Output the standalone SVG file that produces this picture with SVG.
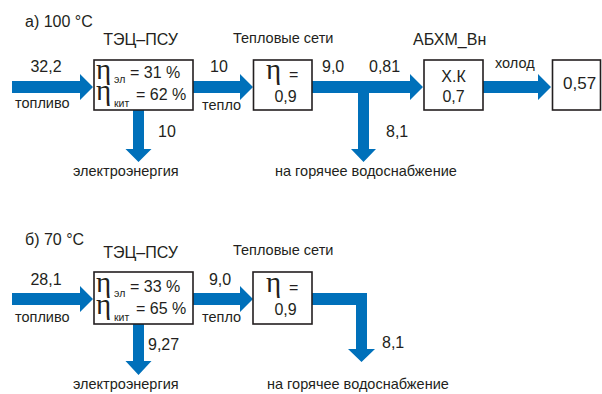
<svg xmlns="http://www.w3.org/2000/svg" width="602" height="394" viewBox="0 0 602 394">
<style>
text{font-family:"Liberation Sans",Arial,sans-serif;fill:#231f20}
.t{font-size:16px}
.l{font-size:14.5px}
.n{font-size:16px}
.eta{font-family:"Liberation Serif","Times New Roman",serif;font-size:29px}
.sub{font-size:10.5px}
.c{text-anchor:middle}
.box{fill:#fff;stroke:#231f20;stroke-width:1.6}
.ar{fill:#0070ba}
</style>
<text class="t" x="25" y="27">а) 100 °С</text>
<text class="t" x="25" y="245">б) 70 °С</text>

<g id="connectors">
  <!-- part a -->
  <polygon class="ar" points="12,81 80,81 80,74 93,87 80,100 80,93 12,93"/>
  <polygon class="ar" points="193,81 240,81 240,74 253,87 240,100 240,93 193,93"/>
  <polygon class="ar" points="133,110 144,110 144,149 151.5,149 138.5,162 125.5,149 133,149"/>
  <polygon class="ar" points="312,81 410,81 410,74 423,87 410,100 410,93 369,93 369,149 376,149 363.5,162 351,149 358,149 358,93 312,93"/>
  <polygon class="ar" points="483,81 538,81 538,74 551,87 538,100 538,93 483,93"/>
  <!-- part b -->
  <polygon class="ar" points="12,293 80,293 80,286 93,299 80,312 80,305 12,305"/>
  <polygon class="ar" points="193,293 240,293 240,286 253,299 240,312 240,305 193,305"/>
  <polygon class="ar" points="133,324 144,324 144,361 151.5,361 138.5,375 125.5,361 133,361"/>
  <polygon class="ar" points="312,293 367,293 367,349 375,349 361.5,362 348,349 356,349 356,305 312,305"/>
</g>

<g id="labels">
  <text class="n c" x="46" y="72">32,2</text>
  <text class="l" x="15" y="108">топливо</text>
  <text class="n c" x="219" y="72">10</text>
  <text class="l" x="202" y="110">тепло</text>
  <text class="n" x="158" y="137">10</text>
  <text class="l" x="73" y="176">электроэнергия</text>
  <text class="n" x="322" y="72">9,0</text>
  <text class="n" x="369" y="72">0,81</text>
  <text class="n" x="386" y="137">8,1</text>
  <text class="l" x="275" y="176">на горячее водоснабжение</text>
  <text class="l" x="495" y="68">холод</text>

  <text class="n c" x="46" y="285">28,1</text>
  <text class="l" x="15" y="322">топливо</text>
  <text class="n c" x="220" y="285">9,0</text>
  <text class="l" x="202" y="322">тепло</text>
  <text class="n" x="148" y="350">9,27</text>
  <text class="l" x="73" y="389">электроэнергия</text>
  <text class="n" x="382" y="348">8,1</text>
  <text class="l" x="267" y="389">на горячее водоснабжение</text>
</g>

<g id="tec-a">
  <text class="t c" x="140.5" y="45">ТЭЦ–ПСУ</text>
  <rect class="box" x="94" y="60" width="99" height="50"/>
  <text class="eta"><tspan x="96" y="79">η</tspan><tspan x="96" y="100">η</tspan></text>
  <text class="sub" x="114" y="83">эл</text>
  <text class="n" x="130" y="78">= 31 %</text>
  <text class="sub" x="114" y="107">кит</text>
  <text class="n" x="136" y="100">= 62 %</text>
</g>
<g id="net-a">
  <text class="l" x="233" y="43">Тепловые сети</text>
  <rect class="box" x="253.5" y="60" width="58.5" height="50"/>
  <text class="eta" x="266" y="79">η</text>
  <text class="n" x="289" y="80">=</text>
  <text class="n c" x="285.5" y="102">0,9</text>
</g>
<g id="abhm-a">
  <text class="t" x="413" y="45">АБХМ_Вн</text>
  <rect class="box" x="424" y="60" width="59" height="50"/>
  <text class="n c" x="453.5" y="82">Х.К</text>
  <text class="n c" x="453.5" y="102">0,7</text>
</g>
<g id="cold-a">
  <rect class="box" x="552.5" y="60" width="48" height="50"/>
  <text class="n" x="563" y="89" style="font-size:17px">0,57</text>
</g>

<g id="tec-b">
  <text class="t c" x="140.5" y="258">ТЭЦ–ПСУ</text>
  <rect class="box" x="94" y="272" width="99" height="52"/>
  <text class="eta"><tspan x="96" y="292">η</tspan><tspan x="96" y="314">η</tspan></text>
  <text class="sub" x="114" y="297">эл</text>
  <text class="n" x="130" y="292">= 33 %</text>
  <text class="sub" x="114" y="321">кит</text>
  <text class="n" x="136" y="314">= 65 %</text>
</g>
<g id="net-b">
  <text class="l" x="233" y="255">Тепловые сети</text>
  <rect class="box" x="253" y="272" width="59" height="52"/>
  <text class="eta" x="266" y="292">η</text>
  <text class="n" x="289" y="293">=</text>
  <text class="n c" x="285.5" y="315">0,9</text>
</g>
</svg>
